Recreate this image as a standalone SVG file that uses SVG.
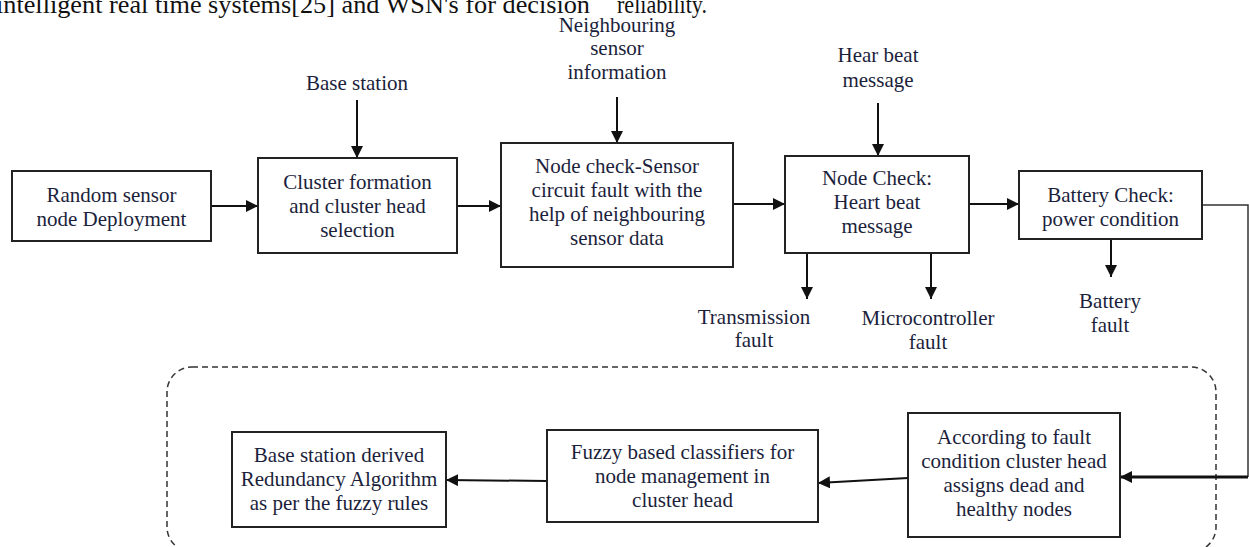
<svg xmlns="http://www.w3.org/2000/svg" width="1249" height="547" viewBox="0 0 1249 547">
<style>
.box{fill:#fff;stroke:#222;stroke-width:2}
.t{font-family:"Liberation Serif","Times New Roman",serif;font-size:21px;fill:#1c1f3c;text-anchor:middle}
.c{stroke:#111;stroke-width:2;fill:none}
.top{font-family:"Liberation Serif","Times New Roman",serif;font-size:26px;fill:#111}
</style>
<defs>
<marker id="ah" viewBox="0 0 12 12" refX="12" refY="6" markerWidth="12" markerHeight="12" markerUnits="userSpaceOnUse" orient="auto">
<path d="M0,0 L12,6 L0,12 z" fill="#111"/>
</marker>
</defs>
<rect width="1249" height="547" fill="#fff"/>
<text class="top" x="-4" y="13" textLength="594" lengthAdjust="spacingAndGlyphs">intelligent real time systems[25] and WSN's for decision</text>
<text class="top" x="617" y="13" textLength="90" lengthAdjust="spacingAndGlyphs">reliability.</text>

<rect x="167" y="367" width="1049" height="185" rx="25" ry="25" fill="none" stroke="#333" stroke-width="1.5" stroke-dasharray="6 4"/>

<g id="connectors">
<line class="c" x1="357" y1="100" x2="357" y2="158" marker-end="url(#ah)"/>
<line class="c" x1="617" y1="97" x2="617" y2="143" marker-end="url(#ah)"/>
<line class="c" x1="878" y1="103" x2="878" y2="156" marker-end="url(#ah)"/>
<line class="c" x1="211" y1="206" x2="258" y2="206" marker-end="url(#ah)"/>
<line class="c" x1="457" y1="206" x2="501" y2="206" marker-end="url(#ah)"/>
<line class="c" x1="733" y1="204" x2="785" y2="204" marker-end="url(#ah)"/>
<line class="c" x1="969" y1="204" x2="1019" y2="204" marker-end="url(#ah)"/>
<line class="c" x1="807" y1="253" x2="807" y2="299" marker-end="url(#ah)"/>
<line class="c" x1="931" y1="253" x2="931" y2="299" marker-end="url(#ah)"/>
<line class="c" x1="1111" y1="239" x2="1111" y2="277" marker-end="url(#ah)"/>
<polyline points="1202,205 1248,205 1248,477" fill="none" stroke="#333" stroke-width="1.5"/>
<line x1="1248" y1="477" x2="1120" y2="477" stroke="#111" stroke-width="3" marker-end="url(#ah)"/>
<line class="c" x1="908" y1="478" x2="818" y2="483" marker-end="url(#ah)"/>
<line class="c" x1="547" y1="481" x2="446" y2="480" marker-end="url(#ah)"/>
</g>

<g id="lbl-base"><text class="t" x="357" y="90">Base station</text></g>
<g id="lbl-neigh"><text class="t" x="617" y="32">Neighbouring</text><text class="t" x="617" y="55">sensor</text><text class="t" x="617" y="79">information</text></g>
<g id="lbl-hear"><text class="t" x="878" y="62">Hear beat</text><text class="t" x="878" y="87">message</text></g>
<g id="lbl-trans"><text class="t" x="754" y="324">Transmission</text><text class="t" x="754" y="347">fault</text></g>
<g id="lbl-micro"><text class="t" x="928" y="325">Microcontroller</text><text class="t" x="928" y="349">fault</text></g>
<g id="lbl-batt"><text class="t" x="1110" y="308">Battery</text><text class="t" x="1110" y="332">fault</text></g>

<g id="n1"><rect class="box" x="12" y="171" width="199" height="70"/>
<text class="t" x="111.5" y="202">Random sensor</text><text class="t" x="111.5" y="226">node Deployment</text></g>
<g id="n2"><rect class="box" x="258" y="158" width="199" height="95"/>
<text class="t" x="357.5" y="189">Cluster formation</text><text class="t" x="357.5" y="213">and cluster head</text><text class="t" x="357.5" y="237">selection</text></g>
<g id="n3"><rect class="box" x="501" y="143" width="232" height="124"/>
<text class="t" x="617" y="173">Node check-Sensor</text><text class="t" x="617" y="197">circuit fault with the</text><text class="t" x="617" y="221">help of neighbouring</text><text class="t" x="617" y="245">sensor data</text></g>
<g id="n4"><rect class="box" x="785" y="156" width="184" height="97"/>
<text class="t" x="877" y="185">Node Check:</text><text class="t" x="877" y="209">Heart beat</text><text class="t" x="877" y="233">message</text></g>
<g id="n5"><rect class="box" x="1019" y="171" width="183" height="68"/>
<text class="t" x="1110.5" y="202">Battery Check:</text><text class="t" x="1110.5" y="226">power condition</text></g>
<g id="n6"><rect class="box" x="908" y="413" width="212" height="124"/>
<text class="t" x="1014" y="444">According to fault</text><text class="t" x="1014" y="468">condition cluster head</text><text class="t" x="1014" y="492">assigns dead and</text><text class="t" x="1014" y="516">healthy nodes</text></g>
<g id="n7"><rect class="box" x="547" y="430" width="271" height="92"/>
<text class="t" x="682.5" y="459">Fuzzy based classifiers for</text><text class="t" x="682.5" y="483">node management in</text><text class="t" x="682.5" y="507">cluster head</text></g>
<g id="n8"><rect class="box" x="232" y="432" width="214" height="95"/>
<text class="t" x="339" y="462">Base station derived</text><text class="t" x="339" y="486">Redundancy Algorithm</text><text class="t" x="339" y="510">as per the fuzzy rules</text></g>
</svg>
